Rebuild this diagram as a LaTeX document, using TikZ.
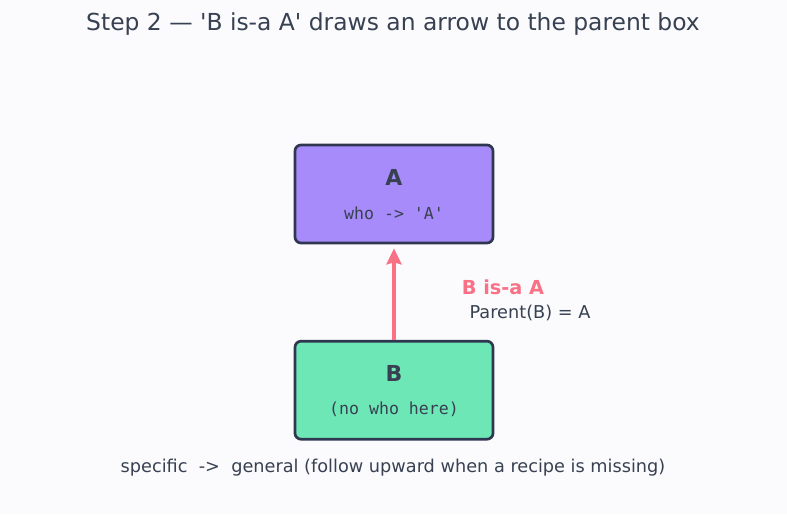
\documentclass[tikz,border=0pt]{standalone}
\usepackage{fontspec}
\setmainfont{DejaVu Sans}
\setmonofont{DejaVu Sans Mono}
\usetikzlibrary{arrows.meta, positioning}

\definecolor{bgcol}{HTML}{FBFBFE}
\definecolor{inkcol}{HTML}{374151}
\definecolor{edgecol}{HTML}{2E3650}
\definecolor{parentcol}{HTML}{A78BFA}
\definecolor{childcol}{HTML}{6EE7B7}
\definecolor{linkcol}{HTML}{F87185}

\begin{document}
\begin{tikzpicture}[
    x=1pt, y=1pt,
    % Styles
    classbox/.style={rectangle, draw=edgecol, line width=2.7pt, rounded corners=6pt, minimum width=198pt, minimum height=98pt, text=inkcol},
    classname/.style={font=\fontsize{22}{26}\selectfont\bfseries, text=inkcol},
    classnote/.style={font=\fontsize{16.6}{20}\selectfont\ttfamily, text=inkcol},
    isa/.style={-{Stealth[length=16pt, width=15pt, inset=2pt]}, line width=3.8pt, draw=linkcol},
    caption/.style={font=\fontsize{17.7}{21}\selectfont, text=inkcol}
]
\fill[bgcol] (0,0) rectangle (787,-514);
\useasboundingbox (0,0) rectangle (787,-514);

% --- Title ---
\node[font=\fontsize{23.4}{27}\selectfont, text=inkcol] (title) at (393,-24) {Step 2 — \textquotesingle B is-a A\textquotesingle{} draws an arrow to the parent box};

% --- Parent and child boxes ---
\node[classbox, fill=parentcol] (boxA) at (394,-194) {};
\node[classbox, fill=childcol, below = 95.5pt of boxA] (boxB) {};

\node[classname] (nameA) at ([yshift=17pt]boxA.center) {A};
\node[classnote] (noteA) at ([yshift=-19pt]boxA.center) {who -> 'A'};
\node[classname] (nameB) at ([yshift=17pt]boxB.center) {B};
\node[classnote] (noteB) at ([yshift=-19pt]boxB.center) {(no who here)};

% --- is-a link ---
\draw[isa, shorten >=4pt] (boxB.north) -- (boxA.south);
\node[font=\fontsize{19.3}{23}\selectfont\bfseries, text=linkcol] (isalabel) at (503,-287) {B is-a A};
\node[caption] (parentlabel) at (530,-313) {Parent(B) = A};

% --- Footer ---
\node[caption] (footer) at (393,-468) {specific\ \ ->\ \ general (follow upward when a recipe is missing)};
\end{tikzpicture}
\end{document}
